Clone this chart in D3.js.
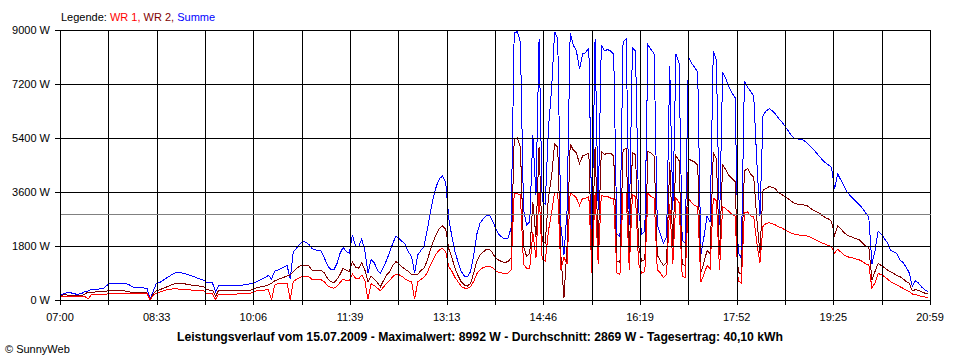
<!DOCTYPE html>
<html><head><meta charset="utf-8">
<script src="https://cdn.jsdelivr.net/npm/d3@7/dist/d3.min.js"></script>
<style>body{margin:0;background:#fff}svg{display:block}text{font-family:"Liberation Sans",Arial,sans-serif}</style>
</head><body><svg id="c" width="960" height="360"></svg>
<script>
// ---- data ----
const dayStart = "07:00";
const dayEnd = "20:59";
const spanMinutes = 839;          // 07:00 .. 20:59
const stepMinutes = 3;            // logging interval of the arrays below
const gridDivisions = 18;
const tickLabels = ["07:00","08:33","10:06","11:39","13:13","14:46","16:19","17:52","19:25","20:59"];
const yTicks = [0,1800,3600,5400,7200,9000];
const yMax = 9000;
const average = 2869;
const titleText = "Leistungsverlauf vom 15.07.2009 - Maximalwert: 8992 W - Durchschnitt: 2869 W - Tagesertrag: 40,10 kWh";
const legendLabel = "Legende: ";
const legendNames = ["WR 1, ","WR 2, ","Summe"];
const creditText = "\u00A9 SunnyWeb";

const summe = [
130,200,240,240,230,200,200,210,290,300,
350,360,360,370,380,480,556,556,560,556,
550,540,530,450,420,410,410,400,380,20,
300,556,580,650,720,780,850,900,920,910,
880,850,820,780,740,700,667,600,580,570,
280,480,480,480,480,485,490,490,495,500,
510,540,556,600,650,700,760,820,700,960,
1000,1050,1100,1150,700,1611,1722,1850,1944,1930,
1850,1720,1670,1656,1630,1400,1150,1020,1000,1200,
1550,1750,1620,1560,2167,1800,1780,2033,1650,890,
1350,1250,1000,880,1100,1333,1600,1900,2133,2050,
1950,1850,1600,1450,900,1500,1650,1780,2300,2900,
3400,3800,4050,4133,3900,2700,2100,1600,1250,950,
800,780,950,1500,2200,2556,2700,2800,2833,2650,
2400,2200,2100,2033,2050,2400,8900,8944,8600,3000,
2500,2600,5500,3500,8700,3300,3200,5700,7000,8944,
8700,2500,1500,3000,8900,8500,8300,7700,8200,8250,
8400,2200,8700,3000,8500,8300,8350,8300,8200,2200,
2100,8600,8700,2500,8400,8300,3000,2200,2300,8500,
8350,8200,2500,2200,1900,2100,7800,3000,8200,7900,
2000,1900,8100,7900,7750,7600,1500,2100,2800,2600,
8300,8000,2500,7600,7400,7100,6900,6750,1600,1400,
7300,7100,6950,6800,4600,2800,6170,6300,6380,6300,
6200,6050,5950,5800,5650,5500,5400,5370,5350,5330,
5250,5150,5050,4920,4800,4680,4580,4500,4420,3700,
4200,4000,3800,3600,3480,3380,3270,3170,3050,2900,
2750,1200,1650,2300,2200,2050,1900,1650,1600,1550,
1333,1250,1100,900,450,650,560,430,340,278];

const wr2 = [
130,170,170,140,135,135,135,140,200,260,
260,265,270,270,270,300,320,320,320,315,
310,300,280,250,245,245,240,240,235,10,
200,311,340,380,420,470,510,540,556,556,
540,520,500,480,470,465,460,360,330,325,
120,320,320,320,320,320,320,320,320,320,
320,320,360,400,430,450,467,500,560,640,
680,720,760,800,833,950,1050,1120,1167,1160,
1133,1000,1000,990,980,900,720,620,578,680,
850,1056,1000,950,1278,1100,1060,1244,1000,611,
800,700,580,444,650,833,950,1150,1278,1200,
1100,1020,950,860,833,860,980,1056,1300,1650,
1950,2200,2389,2467,2350,1700,1400,1050,800,600,
500,467,560,900,1300,1500,1600,1680,1689,1580,
1400,1333,1280,1250,1280,1400,5350,5400,5100,1800,
1450,1550,3250,2100,5100,1950,1900,3400,4100,5200,
5100,1500,70,1800,5200,5000,4900,4550,4800,4850,
4900,1300,5100,1800,4950,4850,4900,4900,4800,1300,
1250,5000,5050,1500,4900,4850,1800,1300,1350,4950,
4900,4800,1500,1300,1150,1250,4600,1800,4800,4650,
1200,1150,4700,4650,4600,4500,900,1250,1650,1550,
4900,4700,1500,4500,4350,4150,4050,3950,950,850,
4300,4389,4200,4100,2700,1567,3667,3720,3780,3760,
3700,3580,3520,3450,3380,3300,3222,3200,3180,3170,
3150,3080,3000,2950,2900,2820,2750,2700,2620,2150,
2480,2380,2250,2170,2120,2080,2040,2000,1900,1800,
1780,667,950,1222,1150,1080,1000,944,880,820,
778,700,620,556,300,350,320,270,230,200];

const wr1 = [
100,120,122,122,122,122,122,122,122,30,
167,167,167,170,170,200,222,222,222,222,
222,220,220,220,220,220,220,220,215,5,
150,230,260,300,330,350,367,367,367,360,
350,340,333,333,330,330,320,220,205,200,
20,200,200,200,200,200,200,200,205,205,
210,210,260,300,330,333,333,340,5,500,
540,556,556,560,10,620,689,740,800,790,
778,689,689,680,670,600,480,420,389,460,
580,700,650,640,867,720,700,833,650,20,
540,480,400,311,430,556,650,780,867,840,
780,700,640,611,20,610,680,760,900,1150,
1350,1550,1667,1722,1600,1100,950,750,600,450,
400,389,450,620,880,1000,1080,1120,1133,1080,
980,920,900,889,900,1000,3550,3544,3500,1200,
1050,1050,2250,1400,3600,1350,1300,2300,2900,3600,
3600,1000,1430,1200,3600,3500,3400,3150,3400,3400,
3450,900,3550,1200,3500,3450,3450,3400,3400,900,
850,3600,3600,1000,3500,3450,1200,900,950,3550,
3450,3400,1000,900,750,850,3200,1200,3400,3250,
800,750,3400,3250,3150,3100,600,850,1150,1050,
3400,3300,1000,3100,3050,2950,2850,2800,650,550,
2900,2944,2800,2778,1900,1233,2467,2550,2578,2540,
2500,2444,2400,2340,2280,2230,2200,2180,2160,2150,
2144,2100,2050,2000,1944,1900,1860,1820,1780,1567,
1689,1600,1500,1444,1420,1400,1360,1333,1280,1200,
1170,389,580,880,850,780,700,610,560,500,
444,390,330,278,200,180,150,120,100,89];

// ---- chart ----
const svg = d3.select("#c");
const x = d3.scaleLinear().domain([0, spanMinutes]).range([60, 930]);
const y = d3.scaleLinear().domain([0, yMax]).range([300, 30]);
const snap = v => Math.round(v) + 0.5;

function series(vals){ return vals.map((v,i)=>({t:i*stepMinutes, v})); }
const line = d3.line().x(d=>x(d.t)).y(d=>y(d.v));

const gData = svg.append("g").attr("shape-rendering","crispEdges").attr("fill","none");
[[summe,"#0000ff"],[wr2,"#800000"],[wr1,"#ff0000"]].forEach(([vals,col])=>{
  gData.append("path").attr("d", line(series(vals))).attr("stroke", col).attr("stroke-width",1);
});

// grid (drawn over the data like the original)
const gGrid = svg.append("g").attr("shape-rendering","crispEdges");
const vGrid = d3.range(gridDivisions+1).map(k => k*spanMinutes/gridDivisions);
gGrid.selectAll("line.v").data(vGrid).join("line")
  .attr("x1", d=>snap(x(d))).attr("x2", d=>snap(x(d)))
  .attr("y1", y(yMax)).attr("y2", y(0)+5).attr("stroke","#000");
gGrid.selectAll("line.h").data(yTicks).join("line")
  .attr("x1", 55).attr("x2", snap(x(spanMinutes))+0.5)
  .attr("y1", d=>snap(y(d))).attr("y2", d=>snap(y(d))).attr("stroke","#000");
gGrid.append("line").attr("x1", snap(x(0))).attr("x2", snap(x(spanMinutes)))
  .attr("y1", snap(y(average))).attr("y2", snap(y(average))).attr("stroke","#808080");

// y labels
svg.selectAll("text.yl").data(yTicks).join("text")
  .attr("x", 50).attr("y", d=>y(d)+4).attr("text-anchor","end")
  .attr("font-size","11px").text(d=>d+" W");

// x labels
svg.selectAll("text.xl").data(tickLabels).join("text")
  .attr("x", (d,i)=>x(i*spanMinutes/(tickLabels.length-1))).attr("y", 321)
  .attr("text-anchor","middle").attr("font-size","11px").text(d=>d);

// legend
const leg = svg.append("text").attr("x", 61).attr("y", 21).attr("font-size","11px");
leg.append("tspan").attr("fill","#000").text(legendLabel);
const legColors = ["#ff0000","#800000","#0000ff"];
legendNames.forEach((n,i)=>leg.append("tspan").attr("fill",legColors[i]).text(n));

// title
svg.append("text").attr("x", 480).attr("y", 341).attr("text-anchor","middle")
  .attr("font-size","12px").attr("font-weight","bold")
  .attr("textLength", 606).attr("lengthAdjust","spacingAndGlyphs").text(titleText);

// credit
svg.append("text").attr("x", 5).attr("y", 353).attr("font-size","11px").text(creditText);
</script>
</body></html>
